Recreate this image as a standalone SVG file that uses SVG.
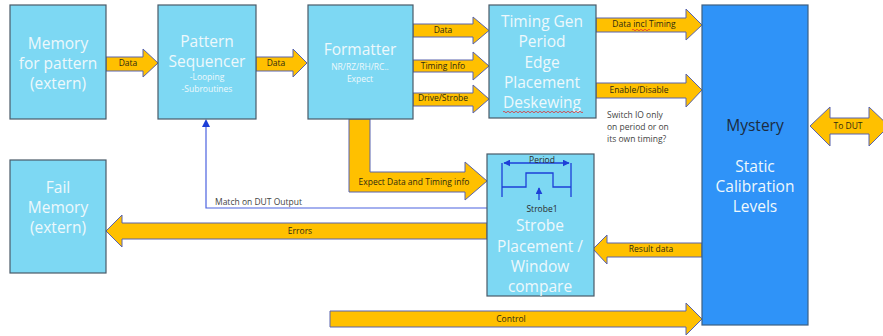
<svg xmlns="http://www.w3.org/2000/svg" width="883" height="336" viewBox="0 0 883 336">
<defs>
<style>
.box{fill:#7dd8f3;stroke:#4a5a68;stroke-width:1.2}
.myst{fill:#2f93f8;stroke:#3d5f82;stroke-width:1.2}
.arr{fill:#ffc000;stroke:#5863ad;stroke-width:1}
.t{font-family:"Open Sans","Liberation Sans",sans-serif;fill:#eef8fc;text-anchor:middle;font-size:15.5px}
.ts{font-family:"Open Sans","Liberation Sans",sans-serif;fill:#eef8fc;text-anchor:middle;font-size:8.5px}
.lb{font-family:"Open Sans","Liberation Sans",sans-serif;fill:#2e2a10;text-anchor:middle;font-size:8.5px}
.nt{font-family:"Open Sans","Liberation Sans",sans-serif;fill:#444;font-size:8.5px}
.bl{fill:none;stroke:#4b62e0;stroke-width:1.2}
.pd{fill:none;stroke:#1d3fd8;stroke-width:1.3}
.sq{fill:none;stroke:#e03030;stroke-width:0.8}
</style>
<marker id="ah" viewBox="0 0 10 10" refX="9" refY="5" markerWidth="7" markerHeight="7" orient="auto-start-reverse" markerUnits="userSpaceOnUse"><path d="M0,0 L10,5 L0,10 z" fill="#1d3fd8"/></marker>
</defs>

<g id="connectors">
<polygon class="arr" points="106,57 143,57 143,49 158,63 143,77 143,71 106,71"/>
<text class="lb" x="128" y="66">Data</text>
<polygon class="arr" points="256,57 293,57 293,49 307,63 293,77 293,71 256,71"/>
<text class="lb" x="276" y="66">Data</text>
<polygon class="arr" points="413,24 473,24 473,17 489,30.5 473,44 473,37 413,37"/>
<text class="lb" x="443" y="33">Data</text>
<polygon class="arr" points="413,60 473,60 473,52 489,66 473,80 473,72 413,72"/>
<text class="lb" x="443" y="69">Timing Info</text>
<polygon class="arr" points="413,93 473,93 473,85 489,99 473,113 473,106 413,106"/>
<text class="lb" x="443" y="101">Drive/Strobe</text>
<polygon class="arr" points="596,18 686,18 686,9 702,25 686,40 686,32 596,32"/>
<text class="lb" x="644" y="27">Data incl Timing</text>
<path class="sq" d="M632,30 q1,-1.5 2,0 t2,0 t2,0 t2,0 t2,0 t2,0 t2,0 t2,0 t2,0"/>
<polygon class="arr" points="596,83 686,83 686,74 702,90 686,107 686,98 596,98"/>
<text class="lb" x="639" y="93">Enable/Disable</text>
<polygon class="arr" points="810,126 830,107 830,118 869,118 869,107 889,126 869,146 869,134 830,134 830,146"/>
<text class="lb" x="848" y="129">To DUT</text>
<polygon class="arr" points="349,119 370,119 370,172 465,172 465,162 487,181 465,200 465,192 349,192"/>
<text class="lb" x="414" y="185">Expect Data and Timing info</text>
<polygon class="arr" points="106,231 122,215 122,223 487,223 487,239 122,239 122,247"/>
<text class="lb" x="300" y="234">Errors</text>
<polygon class="arr" points="593,249 607,235 607,243 702,243 702,257 607,257 607,264"/>
<text class="lb" x="651" y="252">Result data</text>
<polygon class="arr" points="330,311 686,311 686,303 702,319 686,335 686,327 330,327"/>
<text class="lb" x="511" y="322">Control</text>
<path class="bl" d="M487,208 H206 V125"/>
<polygon points="206,119 202,127 210,127" fill="#1d3fd8"/>
<text class="nt" x="215" y="205">Match on DUT Output</text>
<text class="nt" x="607" y="118">Switch IO only</text>
<text class="nt" x="607" y="130">on period or on</text>
<text class="nt" x="607" y="142">its own timing?</text>
</g>

<g id="memory-pattern">
<rect class="box" x="10" y="5" width="96" height="114"/>
<text class="t" x="58" y="48.5">Memory</text>
<text class="t" x="58" y="68.5">for pattern</text>
<text class="t" x="58" y="88.5">(extern)</text>
</g>

<g id="pattern-sequencer">
<rect class="box" x="158" y="5" width="98" height="114"/>
<text class="t" x="207" y="46.5">Pattern</text>
<text class="t" x="207" y="66.5">Sequencer</text>
<text class="ts" x="207" y="80">-Looping</text>
<text class="ts" x="207" y="92">-Subroutines</text>
</g>

<g id="formatter">
<rect class="box" x="308" y="5" width="105" height="114"/>
<text class="t" x="360" y="55">Formatter</text>
<text class="ts" x="360" y="70">NR/RZ/RH/RC..</text>
<text class="ts" x="360" y="82">Expect</text>
</g>

<g id="timing-gen">
<rect class="box" x="489" y="5" width="107" height="113"/>
<text class="t" x="542" y="26.5">Timing Gen</text>
<text class="t" x="542" y="46.5">Period</text>
<text class="t" x="542" y="67.5">Edge</text>
<text class="t" x="542" y="87.5">Placement</text>
<text class="t" x="542" y="107.5">Deskewing</text>
<path class="sq" d="M503,112 q1,-1.5 2,0 t2,0 t2,0 t2,0 t2,0 t2,0 t2,0 t2,0 t2,0 t2,0 t2,0 t2,0 t2,0 t2,0 t2,0 t2,0 t2,0 t2,0 t2,0 t2,0 t2,0 t2,0 t2,0 t2,0 t2,0 t2,0 t2,0 t2,0 t2,0 t2,0 t2,0 t2,0 t2,0 t2,0 t2,0 t2,0 t2,0 t2,0 t2,0 t2,0"/>
</g>

<g id="mystery">
<rect class="myst" x="702" y="5" width="106" height="320"/>
<text class="t" x="755" y="131" style="fill:#1c2b3f">Mystery</text>
<text class="t" x="755" y="171.5">Static</text>
<text class="t" x="755" y="191.5">Calibration</text>
<text class="t" x="755" y="211.5">Levels</text>
</g>

<g id="fail-memory">
<rect class="box" x="10" y="160" width="96" height="113"/>
<text class="t" x="58" y="192.5">Fail</text>
<text class="t" x="58" y="212.5">Memory</text>
<text class="t" x="58" y="232.5">(extern)</text>
</g>

<g id="strobe-placement">
<rect class="box" x="487" y="154" width="107" height="142"/>
<path class="pd" d="M502,163 V197 M571,163 V197"/>
<path class="pd" d="M504,163 H569" marker-start="url(#ah)" marker-end="url(#ah)"/>
<path class="pd" d="M502,187 H526 V173 H553 V187 H571"/>
<path class="pd" d="M539,200 V188" marker-end="url(#ah)"/>
<text x="542" y="163" style="font-family:'Open Sans','Liberation Sans',sans-serif;font-size:8.5px;fill:#2a2a2a;text-anchor:middle">Period</text>
<text x="542" y="212" style="font-family:'Open Sans','Liberation Sans',sans-serif;font-size:8.5px;fill:#2a2a2a;text-anchor:middle">Strobe1</text>
<text class="t" x="540" y="230.5">Strobe</text>
<text class="t" x="540" y="251.5">Placement /</text>
<text class="t" x="540" y="271.5">Window</text>
<text class="t" x="540" y="292">compare</text>
</g>
</svg>
